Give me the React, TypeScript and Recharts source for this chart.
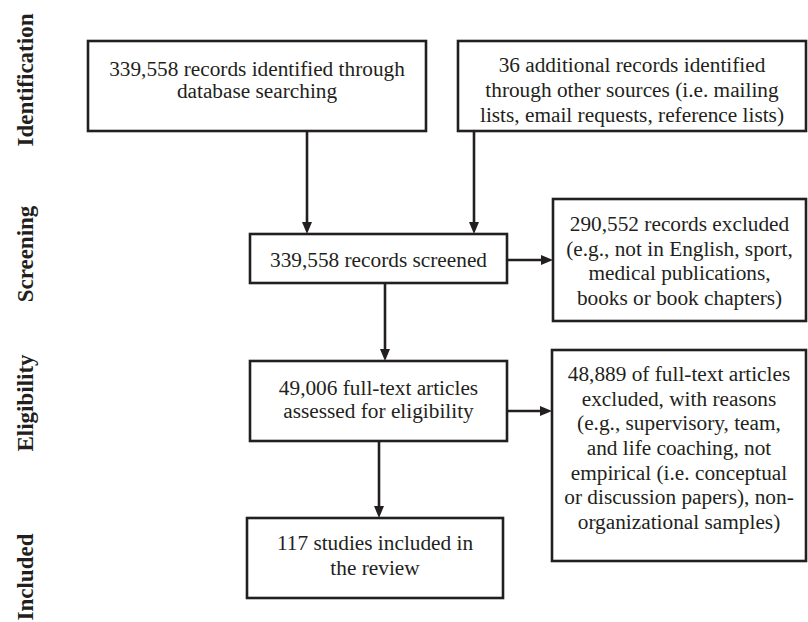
import { ScatterChart, Scatter, XAxis, YAxis, ReferenceArea, ReferenceLine } from "recharts";

// stage labels down the left side
const stageNames = ["Identification", "Screening", "Eligibility", "Included"];
const stageY = [80, 254, 403, 577];

// box contents, one entry per box
const boxLines: string[][] = [
  ["339,558 records identified through", "database searching"],
  ["36 additional records identified", "through other sources (i.e. mailing", "lists, email requests, reference lists)"],
  ["339,558 records screened"],
  ["290,552 records excluded", "(e.g., not in English, sport,", "medical publications,", "books or book chapters)"],
  ["49,006 full-text articles", "assessed for eligibility"],
  ["48,889 of full-text articles", "excluded, with reasons", "(e.g., supervisory, team,", "and life coaching, not", "empirical (i.e. conceptual", "or discussion papers), non-", "organizational samples)"],
  ["117 studies included in", "the review"],
];

// box layout in chart units [x1, x2, y1, y2]
const boxLayout = [
  [88, 426, 41, 131],
  [458, 806, 41, 131],
  [250, 507, 234, 283],
  [553, 806, 199, 321],
  [250, 507, 361, 441],
  [552, 806, 350, 561],
  [247, 503, 518, 598],
];
// text block shift from box centre, and line spacing
const textShift = [-6, 4, 1.5, 1, -1.5, -7.5, -2.5];
const lineGap = [22.5, 25, 24.5, 24.7, 23.5, 24.7, 25];

// arrows [xFrom, yFrom, xTo, yTo]
const arrows = [
  [307, 131, 307, 234],
  [474, 131, 474, 234],
  [507, 260, 553, 260],
  [385, 283, 385, 361],
  [507, 411, 552, 411],
  [379, 441, 379, 518],
];

const stageData = stageNames.map((name, i) => ({ x: 33, y: stageY[i], name }));

const INK = "#231f20";
const SERIF = '"Liberation Serif", "Times New Roman", Times, serif';

function BoxShape(props: any) {
  const { x, y, width, height, lines, shift, gap } = props;
  const cx = x + width / 2;
  const mid = y + height / 2 + shift;
  const n = lines.length;
  return (
    <g>
      <rect x={x} y={y} width={width} height={height} fill="#fff" stroke={INK} strokeWidth={2.6} />
      <text textAnchor="middle" fontSize={21.3} fontFamily={SERIF} fill={INK}>
        {lines.map((l: string, i: number) => (
          <tspan key={i} x={cx} y={mid + (i - (n - 1) / 2) * gap + 7}>
            {l}
          </tspan>
        ))}
      </text>
    </g>
  );
}

function ArrowShape(props: any) {
  const { x1, y1, x2, y2 } = props;
  const dx = x2 - x1;
  const dy = y2 - y1;
  const len = Math.sqrt(dx * dx + dy * dy) || 1;
  const ux = dx / len;
  const uy = dy / len;
  const hl = 12;
  const hw = 5;
  const bx = x2 - ux * hl;
  const by = y2 - uy * hl;
  const pts = `${x2},${y2} ${bx - uy * hw},${by + ux * hw} ${bx + uy * hw},${by - ux * hw}`;
  return (
    <g>
      <line x1={x1} y1={y1} x2={bx + ux * 2} y2={by + uy * 2} stroke={INK} strokeWidth={2.6} />
      <polygon points={pts} fill={INK} />
    </g>
  );
}

function StageLabel(props: any) {
  const { cx, cy, payload } = props;
  return (
    <text
      x={cx}
      y={cy}
      transform={`rotate(-90, ${cx}, ${cy})`}
      textAnchor="middle"
      fontSize={23}
      fontWeight="bold"
      fontFamily={SERIF}
      fill={INK}
    >
      {payload.name}
    </text>
  );
}

export default function App() {
  return (
    <div style={{ position: "fixed", left: 0, top: 0, background: "#fff" }}>
      <ScatterChart width={808} height={622} margin={{ top: 0, right: 0, bottom: 0, left: 0 }}>
        <XAxis type="number" dataKey="x" domain={[0, 808]} hide allowDataOverflow />
        <YAxis type="number" dataKey="y" domain={[0, 622]} reversed hide allowDataOverflow width={0} />
        {arrows.map((a, i) => (
          <ReferenceLine
            key={"a" + i}
            segment={[{ x: a[0], y: a[1] }, { x: a[2], y: a[3] }]}
            ifOverflow="visible"
            shape={(p: any) => <ArrowShape {...p} />}
          />
        ))}
        {boxLayout.map((b, i) => (
          <ReferenceArea
            key={"b" + i}
            x1={b[0]}
            x2={b[1]}
            y1={b[2]}
            y2={b[3]}
            ifOverflow="visible"
            shape={(p: any) => <BoxShape {...p} lines={boxLines[i]} shift={textShift[i]} gap={lineGap[i]} />}
          />
        ))}
        <Scatter data={stageData} isAnimationActive={false} shape={(p: any) => <StageLabel {...p} />} />
      </ScatterChart>
    </div>
  );
}
